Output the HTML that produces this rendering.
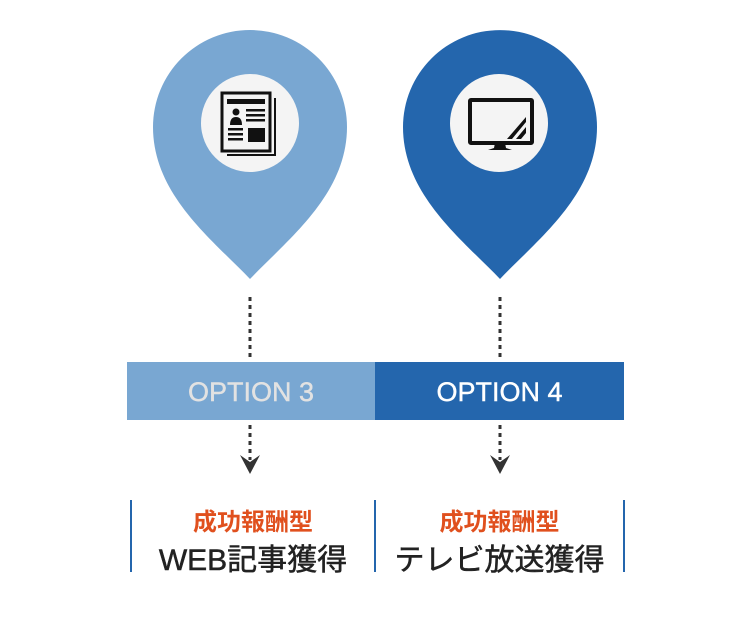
<!DOCTYPE html>
<html><head><meta charset="utf-8"><style>
body{margin:0;width:751px;height:628px;background:#fff;overflow:hidden;position:relative;font-family:"Liberation Sans","Noto Sans CJK JP",sans-serif}
.t{position:absolute;text-align:center;white-space:nowrap}
</style></head><body>
<svg width="751" height="628" style="position:absolute;left:0;top:0">
<path d="M250 279 C213 240,153 195,153 127 A97 97 0 0 1 347 127 C347 195,287 240,250 279Z" fill="#79a7d2"/>
<path d="M500 279 C463 240,403 195,403 127 A97 97 0 0 1 597 127 C597 195,537 240,500 279Z" fill="#2466ad"/>
<circle cx="250" cy="123" r="49" fill="#f4f4f4"/>
<circle cx="499" cy="123" r="49" fill="#f4f4f4"/>
<rect x="222" y="93" width="48" height="58" fill="none" stroke="#111" stroke-width="3"/>
<path d="M275 98 V155 H227" fill="none" stroke="#111" stroke-width="2"/>
<rect x="227" y="99" width="38" height="5" fill="#111"/>
<circle cx="236" cy="112" r="3.5" fill="#111"/>
<path d="M230 125 Q230 117 236 117 Q242 117 242 125Z" fill="#111"/>
<rect x="246" y="109" width="19" height="2.5" fill="#111"/><rect x="246" y="114" width="19" height="2.5" fill="#111"/><rect x="246" y="119" width="19" height="2.5" fill="#111"/>
<rect x="228" y="128" width="15" height="2.5" fill="#111"/><rect x="228" y="133" width="15" height="2.5" fill="#111"/><rect x="228" y="138" width="15" height="2.5" fill="#111"/>
<rect x="248" y="128" width="17" height="14" fill="#111"/>
<rect x="470" y="100" width="62" height="43" fill="none" stroke="#111" stroke-width="4" rx="1"/>
<path d="M507 139 L526 117 L526 122 L512 139Z M516 139 L526 127 L526 133 L521 139Z" fill="#111"/>
<path d="M495 143 L505 143 L506 148 L512 150 L488 150 L494 148Z" fill="#111"/>
<g stroke="#333" stroke-width="3" stroke-dasharray="4 4">
<line x1="250" y1="297" x2="250" y2="358"/><line x1="500" y1="297" x2="500" y2="358"/>
<line x1="250" y1="425" x2="250" y2="460"/><line x1="500" y1="425" x2="500" y2="460"/>
</g>
<path d="M240 455 L250 462 L260 455 L250 474Z" fill="#333"/>
<path d="M490 455 L500 462 L510 455 L500 474Z" fill="#333"/>
<rect x="127" y="362" width="248" height="58" fill="#79a7d2"/>
<rect x="375" y="362" width="249" height="58" fill="#2466ad"/>
<g fill="#2466ad"><rect x="130" y="500" width="2" height="72"/><rect x="374" y="500" width="2" height="72"/><rect x="623" y="500" width="2" height="72"/></g>
</svg>
<div class="t" style="left:127px;width:248px;top:377px;font-size:27px;color:#e2e2e2;-webkit-text-stroke:0.4px #e2e2e2">OPTION 3</div>
<div class="t" style="left:375px;width:249px;top:377px;font-size:27px;color:#fff;-webkit-text-stroke:0.4px #fff">OPTION 4</div>
<div class="t" style="left:132px;width:242px;top:502px;font-size:24px;font-weight:bold;color:#e0501e">成功報酬型</div>
<div class="t" style="left:376px;width:247px;top:502px;font-size:24px;font-weight:bold;color:#e0501e">成功報酬型</div>
<div class="t" style="left:132px;width:242px;top:535px;font-size:30px;color:#222;-webkit-text-stroke:0.5px #222">WEB記事獲得</div>
<div class="t" style="left:376px;width:247px;top:535px;font-size:30px;color:#222;-webkit-text-stroke:0.5px #222">テレビ放送獲得</div>
</body></html>
